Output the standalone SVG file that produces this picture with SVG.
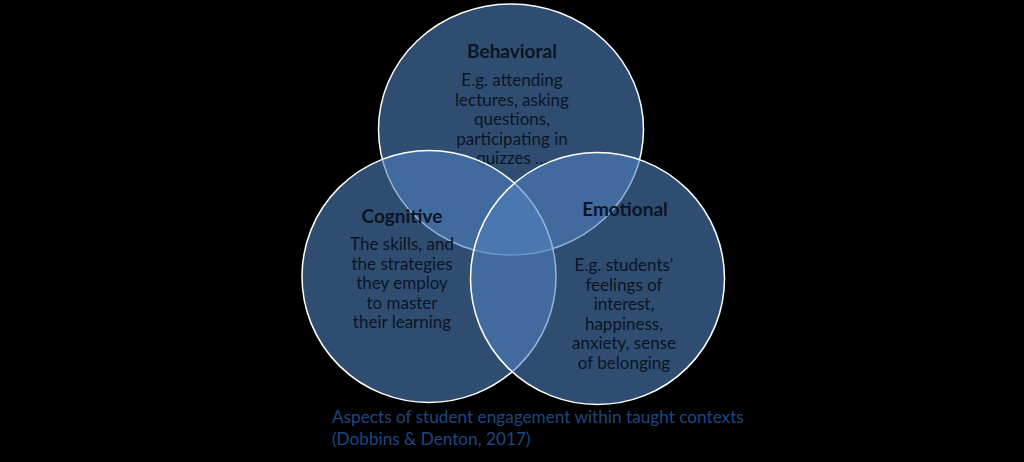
<svg xmlns="http://www.w3.org/2000/svg" width="1024" height="462" viewBox="0 0 1024 462">
<style>
.c{fill:#4F81BD;fill-opacity:0.6;stroke:#ffffff;stroke-width:1.5}
.t{font-family:Lato,"Open Sans",sans-serif;font-size:17px;fill:#0b1523;text-anchor:middle}
.h{font-weight:bold;font-size:19px}
.cap{font-family:Lato,"Open Sans",sans-serif;font-size:17.2px;fill:#1c4780}
</style>
<rect width="1024" height="462" fill="#000000"/>
<g id="behavioral">
<ellipse class="c" cx="511" cy="129.5" rx="132.5" ry="125.5"/>
<text class="t h" x="512" y="58">Behavioral</text>
<text class="t" x="512" y="86">E.g. attending</text>
<text class="t" x="512" y="105.5">lectures, asking</text>
<text class="t" x="512" y="125">questions,</text>
<text class="t" x="512" y="144.5">participating in</text>
<text class="t" x="512" y="164">quizzes …</text>
</g>
<g id="cognitive">
<ellipse class="c" cx="429" cy="276.5" rx="127" ry="126"/>
<text class="t h" x="402" y="223">Cognitive</text>
<text class="t" x="402" y="250">The skills, and</text>
<text class="t" x="402" y="269.5">the strategies</text>
<text class="t" x="402" y="289">they employ</text>
<text class="t" x="402" y="308.5">to master</text>
<text class="t" x="402" y="328">their learning</text>
</g>
<g id="emotional">
<ellipse class="c" cx="597.5" cy="278.5" rx="127" ry="126"/>
<text class="t h" x="625" y="216">Emotional</text>
<text class="t" x="624" y="271">E.g. students’</text>
<text class="t" x="624" y="290.5">feelings of</text>
<text class="t" x="624" y="310">interest,</text>
<text class="t" x="624" y="329.5">happiness,</text>
<text class="t" x="624" y="349">anxiety, sense</text>
<text class="t" x="624" y="368.5">of belonging</text>
</g>
<g id="caption">
<text class="cap" x="332" y="423">Aspects of student engagement within taught contexts</text>
<text class="cap" x="332" y="445">(Dobbins &amp; Denton, 2017)</text>
</g>
</svg>
